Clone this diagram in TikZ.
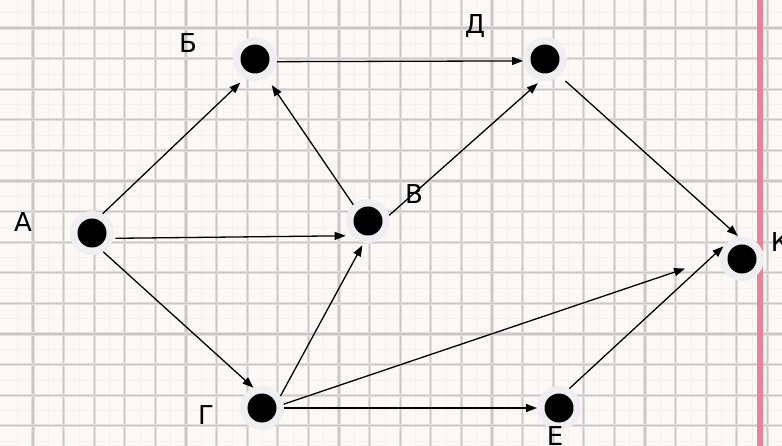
\documentclass[tikz,border=0pt]{standalone}
\usepackage{fontspec}
\setmainfont{DejaVu Sans}
\usetikzlibrary{arrows.meta}
\definecolor{paper}{HTML}{FBF8F6}
\definecolor{gridmaj}{HTML}{CBC7C7}
\definecolor{gridsoft}{HTML}{E2DEDD}
\definecolor{gridmin}{HTML}{F3F0EE}
\definecolor{margin}{HTML}{E8849A}
\definecolor{halo}{HTML}{EFEFF1}
\tikzset{
  vtx/.style={circle, minimum size=44pt, inner sep=0pt, outer sep=0pt, fill=halo,
    path picture={\fill[black] (path picture bounding box.center) circle (14.5pt);}},
  lbl/.style={font=\fontsize{26}{26}\selectfont, inner sep=0pt, anchor=base},
  arr/.style={-{Triangle[length=11pt,width=8pt]}, line width=1.3pt, black},
}
\begin{document}
\begin{tikzpicture}[x=1pt,y=-1pt]
\useasboundingbox (0,0) rectangle (782,446);
\fill[paper] (0,0) rectangle (782,446);
% minor grid
\foreach \i in {0,...,25} \draw[gridmin, line width=0.7pt] (17.7+\i*30.6,0) -- ++(0,446);
\foreach \j in {0,...,14} \draw[gridmin, line width=0.7pt] (0,12.7+\j*30.6) -- ++(782,0);
% major grid
\foreach \i in {0,...,24} {
  \draw[gridsoft, line width=3.2pt] (33+\i*30.6,0) -- ++(0,446);
  \draw[gridmaj, line width=1.2pt] (33+\i*30.6,0) -- ++(0,446);
}
\foreach \j in {0,...,13} {
  \draw[gridsoft, line width=3.2pt] (0,28+\j*30.6) -- ++(782,0);
  \draw[gridmaj, line width=1.2pt] (0,28+\j*30.6) -- ++(782,0);
}
% margin line
\fill[margin] (757,0) rectangle (762.5,446);
% vertices
\node[vtx] (A) at (92,233) {};
\node[vtx] (B) at (255,59) {};
\node[vtx] (D) at (545,59) {};
\node[vtx] (V) at (368,221) {};
\node[vtx] (K) at (742,259) {};
\node[vtx] (G) at (262,408) {};
\node[vtx] (E) at (559,408) {};
% labels
\node[lbl] (lA) at (23,232) {А};
\node[lbl] (lB) at (188,53) {Б};
\node[lbl] (lD) at (475,34) {Д};
\node[lbl] (lV) at (414,204) {В};
\node[lbl] (lK) at (780,252) {К};
\node[lbl] (lG) at (206,424) {Г};
\node[lbl] (lE) at (555,445) {Е};
% edges
\draw[arr, shorten >=6pt] (A.61) -- (B.242);
\draw[arr, shorten >=6pt, shorten <=2pt] (A.-14) -- (V.222);
\draw[arr] (A.-59) -- (G.113);
\draw[arr] (B.-7) -- (D.185);
\draw[arr, shorten >=9pt] (V.132) -- (B.-58);
\draw[arr, shorten >=4pt] (V.15) -- (D.259);
\draw[arr, shorten >=3pt] (G.33) -- (V.259);
\draw[arr, shorten >=37pt] (G.10) -- (K.174);
\draw[arr] (G.0) -- (E.180);
\draw[arr, shorten <=8pt, shorten >=2pt] (D.-49) -- (K.97);
\draw[arr, shorten >=3pt] (E.62) -- (K.138);
\end{tikzpicture}
\end{document}
